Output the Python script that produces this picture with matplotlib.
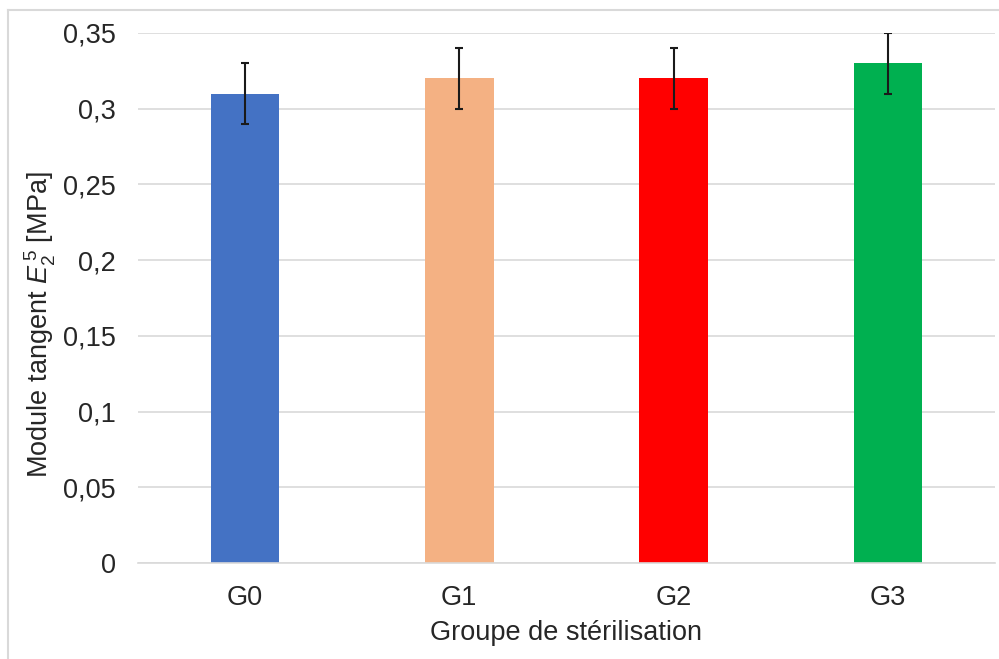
import matplotlib
matplotlib.use("Agg")
import matplotlib.pyplot as plt
from matplotlib.lines import Line2D
from matplotlib.ticker import FuncFormatter
import numpy as np

# Data
groups = ["G0", "G1", "G2", "G3"]
modulus = [0.31, 0.32, 0.32, 0.33]
modulus_err = [0.02, 0.02, 0.02, 0.02]
bar_colors = ["#4472c4", "#f4b183", "#ff0000", "#00b050"]
y_ticks = [0.0, 0.05, 0.10, 0.15, 0.20, 0.25, 0.30, 0.35]

plt.rcParams["font.family"] = ["Liberation Sans", "DejaVu Sans"]
plt.rcParams["mathtext.fontset"] = "custom"
plt.rcParams["mathtext.rm"] = "Liberation Sans"
plt.rcParams["mathtext.it"] = "Liberation Sans:italic"

TEXT = "#262626"
GRID = "#d9d9d9"
FS = 19.5


def comma_fmt(v, _pos):
    s = f"{v:.2f}".rstrip("0").rstrip(".")
    return s.replace(".", ",")


fig = plt.figure(figsize=(9.99, 6.59), dpi=100)
ax = fig.add_axes([0.138, 0.1457, 0.858, 0.8043])

x = np.arange(len(groups))
ax.bar(x, modulus, width=0.32, color=bar_colors, zorder=2)
ax.errorbar(x, modulus, yerr=modulus_err, fmt="none", ecolor="#1a1a1a",
            elinewidth=1.5, capsize=3, capthick=1.5, zorder=3)

ax.set_xlim(-0.5, len(groups) - 0.5)
ax.set_ylim(0, 0.35)
ax.set_yticks(y_ticks)
ax.yaxis.set_major_formatter(FuncFormatter(comma_fmt))
ax.set_xticks(x)
ax.set_xticklabels(groups)
ax.grid(axis="y", color=GRID, linewidth=1.2, zorder=0)
ax.set_axisbelow(True)

for side in ("top", "right", "left"):
    ax.spines[side].set_visible(False)
ax.spines["bottom"].set_color(GRID)
ax.spines["bottom"].set_linewidth(1.2)

ax.tick_params(axis="both", length=0, labelsize=FS, colors=TEXT)
ax.tick_params(axis="y", pad=16)
ax.tick_params(axis="x", pad=16)

ax.set_xlabel("Groupe de stérilisation", fontsize=FS, color=TEXT, labelpad=6)
ax.set_ylabel(r"Module tangent $E_2^{\,5}$ [MPa]", fontsize=FS, color=TEXT)
ax.yaxis.set_label_coords(-0.093, 0.45)

# light frame around the chart area (left and top edges visible)
fig.add_artist(Line2D([8 / 999, 8 / 999], [0, 1 - 10 / 659],
                      transform=fig.transFigure, color=GRID, linewidth=1.5))
fig.add_artist(Line2D([8 / 999, 1], [1 - 10 / 659, 1 - 10 / 659],
                      transform=fig.transFigure, color=GRID, linewidth=1.5))

fig.savefig("out.png", dpi=100)
